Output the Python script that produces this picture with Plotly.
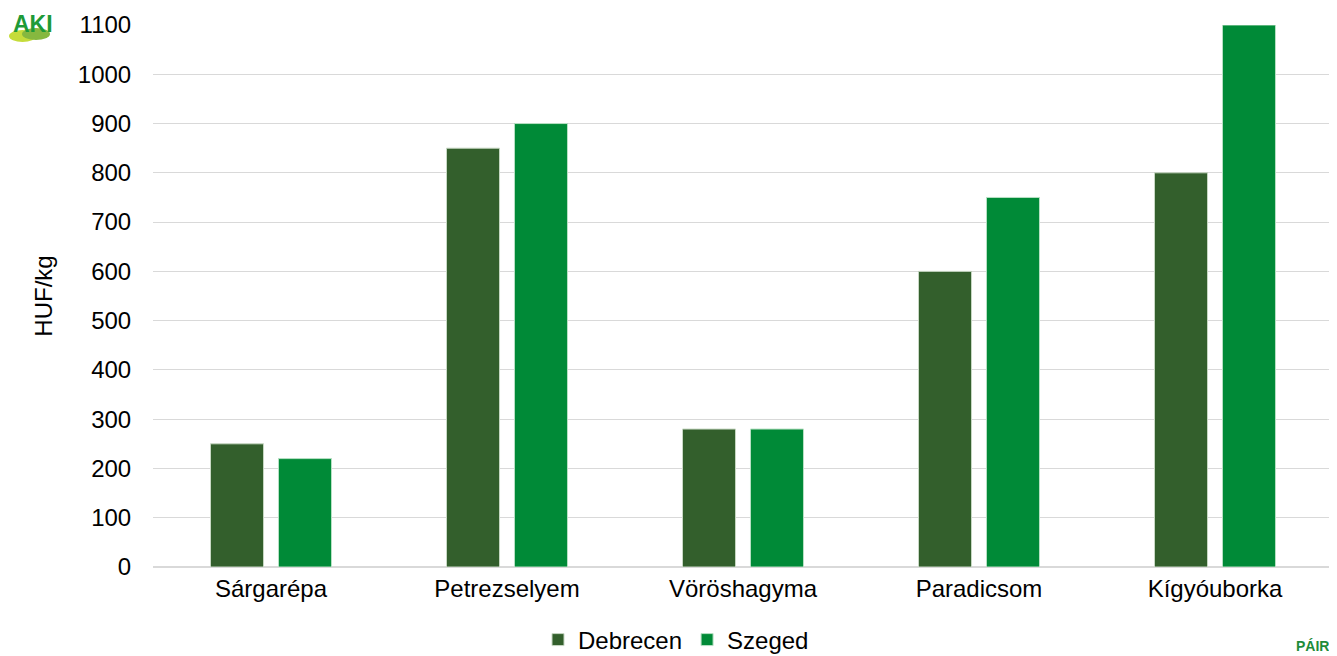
import plotly.graph_objects as go

categories = ["Sárgarépa", "Petrezselyem", "Vöröshagyma", "Paradicsom", "Kígyóuborka"]
debrecen = [250, 850, 280, 600, 800]
szeged = [220, 900, 280, 750, 1100]
y_ticks = list(range(0, 1101, 100))

fig = go.Figure()
fig.add_trace(go.Bar(name="Debrecen", x=categories, y=debrecen,
                     marker=dict(color="#335F2C", line=dict(color="#C8D8C4", width=1))))
fig.add_trace(go.Bar(name="Szeged", x=categories, y=szeged,
                     marker=dict(color="#008A37", line=dict(color="#B8E0C4", width=1))))

font = "Liberation Sans, Arial, sans-serif"
# page body adds 8px margin; figure spans 8..1337 x 8..656
L, T, PW, PH = 153, 25, 1180, 542


def px(x):
    return (x - L) / PW


def py(y):
    return (T + PH - y) / PH


fig.update_layout(
    width=1329, height=648,
    margin=dict(l=145, r=4, t=17, b=89, autoexpand=False),
    paper_bgcolor="white", plot_bgcolor="white",
    barmode="group", bargap=0.424, bargroupgap=0.22,
    font=dict(family=font, size=24, color="#000000"),
    showlegend=True,
    legend=dict(orientation="h", x=px(676), xanchor="center", y=py(640), yanchor="middle",
                font=dict(size=24), traceorder="normal", itemwidth=30),
    xaxis=dict(showgrid=False, showline=True, linecolor="#D9D9D9", linewidth=1,
               ticks="", tickfont=dict(size=24), automargin=False),
    yaxis=dict(range=[0, 1100], tickvals=y_ticks, showgrid=True, gridcolor="#D9D9D9",
               gridwidth=1, zeroline=True, zerolinecolor="#D9D9D9", showline=False,
               ticks="outside", ticklen=16, tickcolor="rgba(0,0,0,0)",
               tickfont=dict(size=24), automargin=False,
               title=dict(text="HUF/kg", font=dict(size=24), standoff=18)),
    shapes=[
        dict(type="circle", xref="paper", yref="paper", x0=px(9), x1=px(36), y0=py(42), y1=py(30),
             fillcolor="#C5DC3A", line=dict(width=0), layer="below"),
        dict(type="circle", xref="paper", yref="paper", x0=px(22), x1=px(50), y0=py(40), y1=py(28),
             fillcolor="#86B83F", line=dict(width=0), layer="below"),
    ],
    annotations=[
        dict(text="<b>AKI</b>", xref="paper", yref="paper", x=px(11), y=py(9),
             xanchor="left", yanchor="top", showarrow=False,
             font=dict(size=23, color="#1E9A38", family=font)),
        dict(text="<b>PÁIR</b>", xref="paper", yref="paper", x=px(1331), y=py(656),
             xanchor="right", yanchor="bottom", showarrow=False,
             font=dict(size=14, color="#1E8C3A", family=font)),
    ],
)
fig.write_html("out.html")
